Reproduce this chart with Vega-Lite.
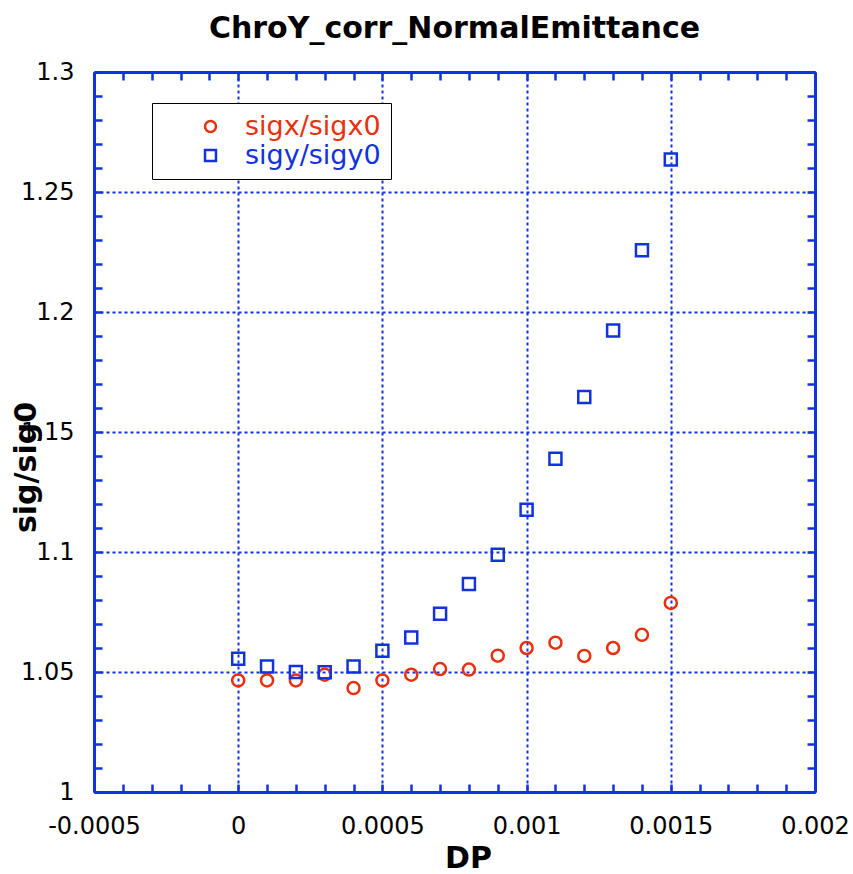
{
  "$schema": "https://vega.github.io/schema/vega-lite/v6.json",
  "autosize": {"type": "none"},
  "width": 721,
  "height": 720,
  "padding": {"left": 94, "top": 72, "right": 38, "bottom": 82},
  "background": "white",
  "title": {"text": "ChroY_corr_NormalEmittance", "font": "DejaVu Sans", "fontSize": 30, "fontWeight": "bold", "color": "black", "anchor": "middle", "offset": 16},
  "config": {"view": {"stroke": null}, "axis": {"gridDash": [3, 3]}},
  "data": {"values": [
    {"dp": 0, "sig": 1.0465, "series": "sigx/sigx0"},
    {"dp": 0.0001, "sig": 1.0465, "series": "sigx/sigx0"},
    {"dp": 0.0002, "sig": 1.0465, "series": "sigx/sigx0"},
    {"dp": 0.0003, "sig": 1.0489, "series": "sigx/sigx0"},
    {"dp": 0.0004, "sig": 1.0433, "series": "sigx/sigx0"},
    {"dp": 0.0005, "sig": 1.0465, "series": "sigx/sigx0"},
    {"dp": 0.0006, "sig": 1.0489, "series": "sigx/sigx0"},
    {"dp": 0.0007, "sig": 1.0512, "series": "sigx/sigx0"},
    {"dp": 0.0008, "sig": 1.051, "series": "sigx/sigx0"},
    {"dp": 0.0009, "sig": 1.0568, "series": "sigx/sigx0"},
    {"dp": 0.001, "sig": 1.06, "series": "sigx/sigx0"},
    {"dp": 0.0011, "sig": 1.0622, "series": "sigx/sigx0"},
    {"dp": 0.0012, "sig": 1.0567, "series": "sigx/sigx0"},
    {"dp": 0.0013, "sig": 1.06, "series": "sigx/sigx0"},
    {"dp": 0.0014, "sig": 1.0655, "series": "sigx/sigx0"},
    {"dp": 0.0015, "sig": 1.0788, "series": "sigx/sigx0"},
    {"dp": 0, "sig": 1.0555, "series": "sigy/sigy0"},
    {"dp": 0.0001, "sig": 1.0523, "series": "sigy/sigy0"},
    {"dp": 0.0002, "sig": 1.05, "series": "sigy/sigy0"},
    {"dp": 0.0003, "sig": 1.0499, "series": "sigy/sigy0"},
    {"dp": 0.0004, "sig": 1.0523, "series": "sigy/sigy0"},
    {"dp": 0.0005, "sig": 1.0589, "series": "sigy/sigy0"},
    {"dp": 0.0006, "sig": 1.0644, "series": "sigy/sigy0"},
    {"dp": 0.0007, "sig": 1.0743, "series": "sigy/sigy0"},
    {"dp": 0.0008, "sig": 1.0867, "series": "sigy/sigy0"},
    {"dp": 0.0009, "sig": 1.0989, "series": "sigy/sigy0"},
    {"dp": 0.001, "sig": 1.1176, "series": "sigy/sigy0"},
    {"dp": 0.0011, "sig": 1.1389, "series": "sigy/sigy0"},
    {"dp": 0.0012, "sig": 1.1646, "series": "sigy/sigy0"},
    {"dp": 0.0013, "sig": 1.1923, "series": "sigy/sigy0"},
    {"dp": 0.0014, "sig": 1.2257, "series": "sigy/sigy0"},
    {"dp": 0.0015, "sig": 1.2635, "series": "sigy/sigy0"}
  ]},
  "resolve": {"axis": {"x": "independent", "y": "independent"}},
  "layer": [
    {
      "mark": {"type": "point", "filled": false, "size": 144, "strokeWidth": 2.5, "opacity": 1},
      "encoding": {
        "x": {"field": "dp", "type": "quantitative", "scale": {"domain": [-0.0005, 0.002], "nice": false, "zero": false},
          "axis": {"orient": "bottom", "title": "DP",
            "values": [-0.0005,-0.0004,-0.0003,-0.0002,-0.0001,0,0.0001,0.0002,0.0003,0.0004,0.0005,0.0006,0.0007,0.0008,0.0009,0.001,0.0011,0.0012,0.0013,0.0014,0.0015,0.0016,0.0017,0.0018,0.0019,0.002],
            "labelExpr": "abs(round(datum.value*10000)%5)==0 ? replace(format(datum.value, '~g'), '−', '-') : ''",
            "labelFont": "DejaVu Sans", "labelFontSize": 24, "labelColor": "black", "labelPadding": 30, "labelFlush": false, "labelOverlap": false,
            "tickSize": -8, "tickColor": "#1232dc", "tickWidth": 2.5,
            "domainColor": "#1232dc", "domainWidth": 3,
            "grid": true, "gridColor": "#1232dc", "gridWidth": 2,
            "gridOpacity": {"condition": {"test": "abs(round(datum.value*10000)%5)==0", "value": 1}, "value": 0},
            "titleFont": "DejaVu Sans", "titleFontSize": 30, "titleFontWeight": "bold", "titleColor": "black",
            "titleX": 374, "titleY": 75, "titleAlign": "center", "titleBaseline": "alphabetic"}},
        "y": {"field": "sig", "type": "quantitative", "scale": {"domain": [1, 1.3], "nice": false, "zero": false},
          "axis": {"orient": "left", "title": "sig/sig0",
            "values": [1,1.01,1.02,1.03,1.04,1.05,1.06,1.07,1.08,1.09,1.1,1.11,1.12,1.13,1.14,1.15,1.16,1.17,1.18,1.19,1.2,1.21,1.22,1.23,1.24,1.25,1.26,1.27,1.28,1.29,1.3],
            "labelExpr": "abs(round(datum.value*100)%5)==0 ? format(datum.value, '~g') : ''",
            "labelFont": "DejaVu Sans", "labelFontSize": 24, "labelColor": "black", "labelPadding": 28, "labelFlush": false, "labelOverlap": false,
            "tickSize": -8, "tickColor": "#1232dc", "tickWidth": 2.5,
            "domainColor": "#1232dc", "domainWidth": 3,
            "grid": true, "gridColor": "#1232dc", "gridWidth": 2,
            "gridOpacity": {"condition": {"test": "abs(round(datum.value*100)%5)==0", "value": 1}, "value": 0},
            "titleFont": "DejaVu Sans", "titleFontSize": 30, "titleFontWeight": "bold", "titleColor": "black",
            "titleX": -59, "titleY": 395, "titleAlign": "center", "titleBaseline": "alphabetic", "titleAngle": -90}},
        "color": {"field": "series", "type": "nominal", "scale": {"domain": ["sigx/sigx0", "sigy/sigy0"], "range": ["#e8300e", "#1232dc"]},
          "legend": {"title": null, "orient": "none", "legendX": 58, "legendY": 31, "direction": "vertical",
            "fillColor": "white", "strokeColor": "black", "padding": 10,
            "symbolOffset": 35, "labelOffset": 21, "symbolSize": 120, "symbolStrokeWidth": 2.5, "symbolType": "circle",
            "labelFont": "DejaVu Sans", "labelFontSize": 27, "rowPadding": 1,
            "labelColor": {"expr": "datum.value === 'sigx/sigx0' ? '#e8300e' : '#1232dc'"}}},
        "shape": {"field": "series", "type": "nominal", "scale": {"domain": ["sigx/sigx0", "sigy/sigy0"], "range": ["circle", "square"]}, "legend": null}
      }
    },
    {
      "mark": {"type": "point", "opacity": 0},
      "encoding": {
        "x": {"field": "dp", "type": "quantitative", "scale": {"domain": [-0.0005, 0.002], "nice": false, "zero": false},
          "axis": {"orient": "top", "title": null, "labels": false, "grid": false,
            "values": [-0.0005,-0.0004,-0.0003,-0.0002,-0.0001,0,0.0001,0.0002,0.0003,0.0004,0.0005,0.0006,0.0007,0.0008,0.0009,0.001,0.0011,0.0012,0.0013,0.0014,0.0015,0.0016,0.0017,0.0018,0.0019,0.002],
            "tickSize": -8, "tickColor": "#1232dc", "tickWidth": 2.5, "domainColor": "#1232dc", "domainWidth": 3}},
        "y": {"field": "sig", "type": "quantitative", "scale": {"domain": [1, 1.3], "nice": false, "zero": false},
          "axis": {"orient": "right", "title": null, "labels": false, "grid": false,
            "values": [1,1.01,1.02,1.03,1.04,1.05,1.06,1.07,1.08,1.09,1.1,1.11,1.12,1.13,1.14,1.15,1.16,1.17,1.18,1.19,1.2,1.21,1.22,1.23,1.24,1.25,1.26,1.27,1.28,1.29,1.3],
            "tickSize": -8, "tickColor": "#1232dc", "tickWidth": 2.5, "domainColor": "#1232dc", "domainWidth": 3}}
      }
    }
  ]
}
